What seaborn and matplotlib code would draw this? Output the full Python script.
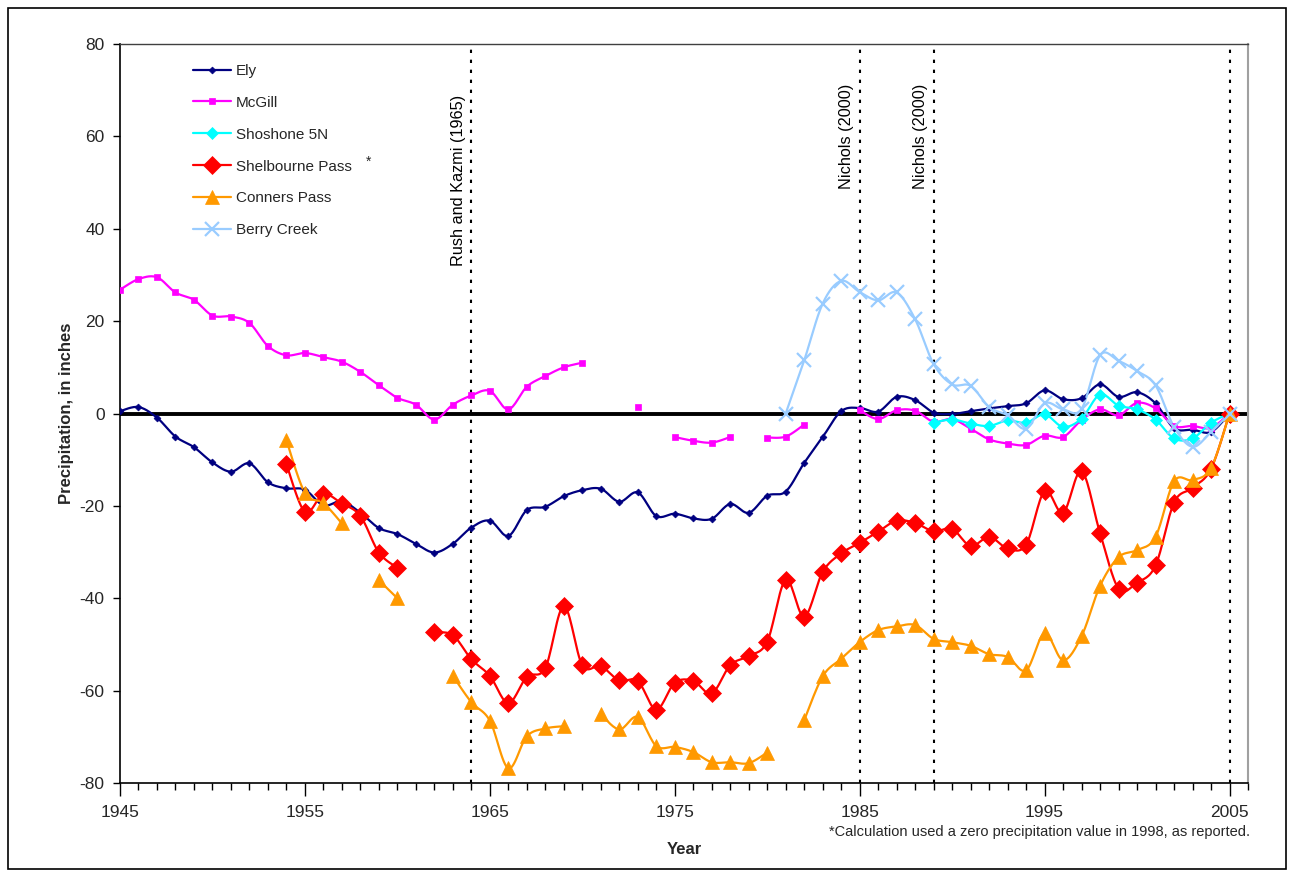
import numpy as np
import matplotlib
matplotlib.use("Agg")
import matplotlib.pyplot as plt
from matplotlib.lines import Line2D
from matplotlib.patches import Rectangle
from matplotlib.ticker import MultipleLocator
import seaborn as sns

nan = np.nan

years = list(range(1945, 2006))

ely = [0.5, 1.4, -0.9, -5.0, -7.3, -10.6, -12.6, -10.8, -14.9, -16.2,
       -16.5, -19.9, -19.0, -21.5, -24.8, -26.1, -28.2, -30.1, -28.2, -24.7,
       -23.2, -26.5, -20.9, -20.2, -17.9, -16.6, -16.3, -19.1, -17.1, -22.2,
       -21.7, -22.7, -22.8, -19.6, -21.5, -17.8, -16.9, -10.7, -5.1, 0.5,
       1.2, 0.4, 3.6, 2.9, 0.2, -0.1, 0.5, 1.1, 1.6, 2.2,
       5.0, 3.1, 3.3, 6.3, 3.6, 4.6, 2.2, -3.2, -3.5, -4.0,
       0.0]

mcgill = [26.8, 29.1, 29.5, 26.2, 24.6, 21.2, 21.0, 19.6, 14.6, 12.6,
          13.1, 12.2, 11.2, 9.0, 6.1, 3.4, 1.9, -1.3, 1.9, 3.9,
          4.9, 0.9, 5.8, 8.1, 10.0, 11.0, nan, nan, 1.4, nan,
          -5.1, -5.9, -6.3, -5.1, nan, -5.2, -5.0, -2.4, nan, nan,
          0.7, -1.2, 0.7, 0.6, -1.8, -1.2, -3.3, -5.6, -6.5, -6.8,
          -4.8, -5.1, -1.4, 0.9, -0.4, 2.3, 1.1, -2.7, -2.7, -3.1,
          0.0]

shoshone = [nan] * 44 + [-2.0, -1.3, -2.2, -2.7, -1.5, -2.0,
                         -0.2, -2.9, -1.1, 4.1, 1.7, 0.9, -1.3, -5.4, -5.4, -2.0,
                         0.0]

shelbourne = [nan] * 9 + [-11.0,
              -21.3, -17.5, -19.5, -22.2, -30.1, -33.4, nan, -47.4, -48.0, -53.2,
              -56.8, -62.7, -57.0, -55.1, -41.7, -54.5, -54.7, -57.8, -57.9, -64.1,
              -58.3, -57.9, -60.6, -54.5, -52.5, -49.4, -36.0, -44.0, -34.3, -30.3,
              -28.0, -25.6, -23.2, -23.7, -25.5, -25.0, -28.7, -26.7, -29.2, -28.4,
              -16.8, -21.5, -12.5, -25.9, -37.9, -36.6, -32.9, -19.3, -16.1, -12.0,
              0.0]

conners = [nan] * 9 + [-5.8,
           -17.2, -19.4, -23.8, nan, -36.1, -40.0, nan, nan, -56.8, -62.5,
           -66.5, -76.8, -69.9, -68.2, -67.7, nan, -65.1, -68.4, -65.7, -72.0,
           -72.2, -73.3, -75.5, -75.5, -75.7, -73.4, nan, -66.4, -56.9, -53.1,
           -49.5, -46.9, -46.1, -45.8, -48.8, -49.5, -50.3, -52.1, -52.7, -55.6,
           -47.6, -53.4, -48.2, -37.3, -31.1, -29.6, -26.7, -14.7, -14.4, -11.8,
           0.0]

berry = [nan] * 36 + [0.0, 11.5, 23.8, 28.7,
                      26.3, 24.5, 26.2, 20.4, 10.7, 6.3, 6.0, 1.4, -0.4, -3.3,
                      2.2, 0.9, 1.0, 12.6, 11.4, 9.2, 6.1, -2.9, -7.2, -4.0,
                      0.0]

series_names = ["Ely", "McGill", "Shoshone 5N", "Shelbourne Pass",
                "Conners Pass", "Berry Creek"]
series_values = [ely, mcgill, shoshone, shelbourne, conners, berry]
series_colors = ["#000080", "#FF00FF", "#00FFFF", "#FF0000", "#FF9900", "#99CCFF"]
series_markers = ["D", "s", "D", "D", "^", "x"]
series_msize = [3.5, 5, 6, 9, 10, 10]
series_mew = [0, 0, 0, 0, 0, 1.6]

reference_years = [1964, 1985, 1989, 2005]
reference_labels = ["Rush and Kazmi (1965)", "Nichols (2000)", "Nichols (2000)", None]


def smooth_segment(x, y, steps=16):
    """Bezier smoothing through each point, like a spreadsheet's smoothed line."""
    x = np.asarray(x, float)
    y = np.asarray(y, float)
    n = len(x)
    if n < 3:
        return x, y
    xs, ys = [x[0]], [y[0]]
    t = np.linspace(0, 1, steps + 1)[1:]
    for i in range(n - 1):
        p0 = np.array([x[max(i - 1, 0)], y[max(i - 1, 0)]])
        p1 = np.array([x[i], y[i]])
        p2 = np.array([x[i + 1], y[i + 1]])
        p3 = np.array([x[min(i + 2, n - 1)], y[min(i + 2, n - 1)]])
        b1 = p1 + (p2 - p0) / 6.0
        b2 = p2 - (p3 - p1) / 6.0
        pts = ((1 - t) ** 3)[:, None] * p1 + (3 * (1 - t) ** 2 * t)[:, None] * b1 \
            + (3 * (1 - t) * t ** 2)[:, None] * b2 + (t ** 3)[:, None] * p2
        xs.extend(pts[:, 0])
        ys.extend(pts[:, 1])
    return np.array(xs), np.array(ys)


def runs(x, y):
    """Split a series into runs of consecutive non-missing values."""
    out, cur = [], []
    for xi, yi in zip(x, y):
        if np.isnan(yi):
            if cur:
                out.append(cur)
            cur = []
        else:
            cur.append((xi, yi))
    if cur:
        out.append(cur)
    return out


sns.set_theme(style="white")
plt.rcParams["font.family"] = ["Liberation Sans", "DejaVu Sans"]
plt.rcParams["axes.unicode_minus"] = False

fig = plt.figure(figsize=(12.94, 8.75), dpi=100)
ax = fig.add_axes([120 / 1294, 92 / 875, 1128 / 1294, 739 / 875])

# zero reference line
ax.axhline(0, color="black", lw=2.8, zorder=1)

# reference-study markers
for yr in reference_years:
    ax.axvline(yr, color="black", lw=1.5, ls=(0, (1.6, 3.2)), zorder=1)

for name, vals, col, mk, ms, mew in zip(series_names, series_values, series_colors,
                                         series_markers, series_msize, series_mew):
    for seg in runs(years, vals):
        sx = [p[0] for p in seg]
        sy = [p[1] for p in seg]
        if len(seg) > 1:
            cx, cy = smooth_segment(sx, sy)
            sns.lineplot(x=cx, y=cy, ax=ax, color=col, lw=1.6, sort=False,
                         estimator=None, zorder=3)
        ax.plot(sx, sy, ls="none", marker=mk, markersize=ms, color=col,
                markeredgecolor=col, markeredgewidth=mew if mk == "x" else 0.5,
                zorder=4)

ax.set_xlim(1945, 2006)
ax.set_ylim(-80, 80)
ax.xaxis.set_major_locator(MultipleLocator(10))
ax.xaxis.set_minor_locator(MultipleLocator(1))
ax.yaxis.set_major_locator(MultipleLocator(20))
ax.set_xticks([1945, 1955, 1965, 1975, 1985, 1995, 2005])
ax.tick_params(axis="x", which="major", direction="out", length=9, width=1,
               color="black", labelsize=12.5, pad=7, bottom=True)
ax.tick_params(axis="x", which="minor", direction="out", length=5, width=1,
               color="black", bottom=True)
ax.tick_params(axis="y", which="major", direction="out", length=5, width=1,
               color="black", labelsize=12.5, pad=6, left=True)

for side in ["left", "bottom"]:
    ax.spines[side].set_color("black")
    ax.spines[side].set_linewidth(1.2)
ax.spines["top"].set_color("#404040")
ax.spines["top"].set_linewidth(1.0)
ax.spines["right"].set_color("#A0A0A0")
ax.spines["right"].set_linewidth(1.5)

ax.set_xlabel("Year", fontsize=12, fontweight="bold", labelpad=16)
ax.set_ylabel("Precipitation, in inches", fontsize=12, fontweight="bold", labelpad=4)

# study labels beside their lines
for yr, lab in zip(reference_years, reference_labels):
    if lab is None:
        continue
    y0 = 32.0 if yr == 1964 else 48.5
    ax.text(yr - 0.3, y0, lab, rotation=90, rotation_mode="anchor",
            ha="left", va="bottom", fontsize=11.7, color="black")

handles = [Line2D([], [], color=c, lw=1.6, marker=m, markersize=s,
                  markeredgewidth=(w if m == "x" else 0.5), markeredgecolor=c)
           for c, m, s, w in zip(series_colors, series_markers, series_msize, series_mew)]
ax.legend(handles, series_names, loc="upper left",
          bbox_to_anchor=(0.065, 0.973), frameon=False, fontsize=11,
          handlelength=2.45, handletextpad=0.35, labelspacing=1.17,
          borderpad=0, borderaxespad=0, numpoints=1)
ax.text(0.218, 0.84, "*", transform=ax.transAxes, fontsize=10, ha="left",
        va="center")

fig.text(1250 / 1294, 1 - 832 / 875,
         "*Calculation used a zero precipitation value in 1998, as reported.",
         ha="right", va="center", fontsize=10.5)

fig.patches.append(Rectangle((8 / 1294, 6 / 875), 1278 / 1294, 861 / 875,
                             transform=fig.transFigure, fill=False,
                             edgecolor="black", lw=1.2))

fig.savefig("out.png", dpi=100)
